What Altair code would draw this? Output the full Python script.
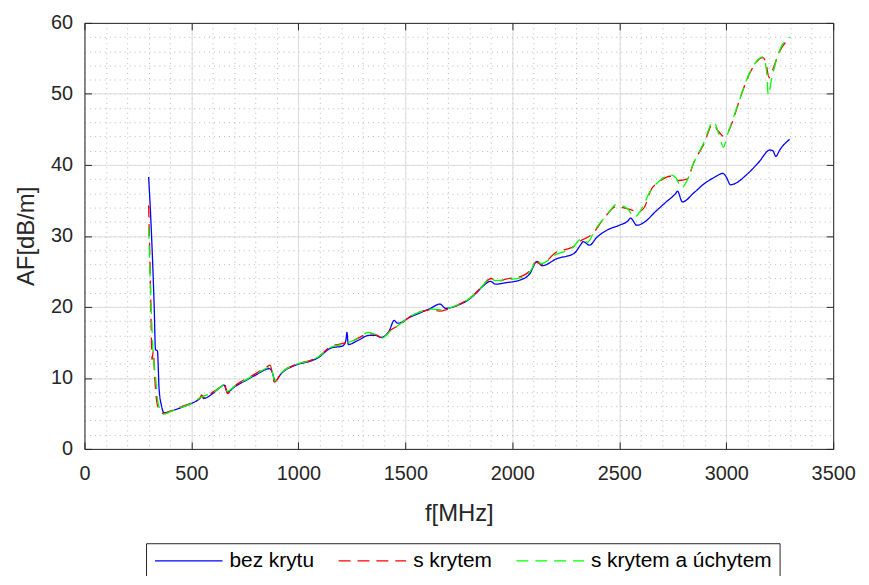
import altair as alt
import pandas as pd

names = ["bez krytu", "s krytem", "s krytem a úchytem"]
colors = ["#0000ff", "#ff0000", "#00ff00"]
dashes = [[1, 0], [12, 7], [12, 7]]

f_blue = [300, 314, 326, 332, 341, 349, 360, 372, 400, 450, 500, 539, 551, 556, 600, 632, 652, 668, 700,
          764, 800, 865, 875, 892, 920, 997, 1050, 1090, 1152, 1207, 1222, 1227, 1233, 1280, 1331, 1360,
          1386, 1424, 1448, 1463, 1525, 1580, 1618, 1662, 1688, 1758, 1800, 1836, 1859, 1898, 1921, 1968,
          2038, 2080, 2116, 2139, 2209, 2287, 2325, 2330, 2361, 2395, 2442, 2500, 2540, 2553, 2582, 2625,
          2665, 2720, 2764, 2772, 2795, 2850, 2895, 2942, 2985, 3000, 3020, 3035, 3098, 3150, 3205, 3218,
          3232, 3250, 3296]
v_blue = [38.3, 29.8, 20.0, 14.0, 13.8, 8.4, 6.1, 5.1, 5.3, 5.8, 6.4, 7.1, 7.5, 7.1, 7.8, 8.6, 9.0, 8.0, 8.7,
          9.8, 10.4, 11.3, 11.0, 9.6, 10.6, 11.9, 12.3, 12.8, 14.2, 14.5, 15.3, 16.4, 14.7, 15.3, 16.0, 16.0,
          15.7, 16.6, 18.1, 17.7, 18.6, 19.3, 19.8, 20.4, 19.8, 20.4, 21.1, 22.1, 22.8, 23.6, 23.2, 23.4,
          23.8, 24.6, 26.4, 25.8, 26.8, 27.5, 29.0, 29.2, 28.7, 29.8, 30.8, 31.5, 32.1, 32.5, 31.5, 32.1,
          33.3, 34.8, 36.0, 36.3, 34.8, 36.1, 37.3, 38.2, 38.8, 38.3, 37.2, 37.3, 38.7, 40.3, 42.1, 42.0,
          41.2, 42.1, 43.6]

f_red = [300, 308, 316, 322, 328, 340, 355, 370, 400, 450, 500, 540, 548, 555, 600, 640, 655, 668, 700,
         764, 800, 860, 868, 888, 920, 1000, 1050, 1090, 1150, 1200, 1260, 1330, 1360, 1390, 1430, 1480,
         1525, 1580, 1620, 1660, 1700, 1760, 1800, 1840, 1870, 1900, 1930, 1970, 2050, 2090, 2110, 2135,
         2205, 2280, 2325, 2372, 2432, 2485, 2540, 2563, 2590, 2617, 2647, 2686, 2740, 2777, 2817, 2848,
         2895, 2937, 2962, 2988, 3003, 3027, 3065, 3110, 3172, 3186, 3200, 3222, 3245, 3296]
v_red = [34.3, 24.0, 12.6, 13.8, 10.3, 6.3, 5.3, 5.0, 5.3, 5.9, 6.5, 7.2, 7.6, 7.2, 8.0, 8.8, 9.2, 7.8, 8.8,
         10.0, 10.6, 11.7, 11.8, 9.4, 10.7, 12.0, 12.4, 12.9, 14.4, 14.8, 15.3, 16.2, 16.1, 15.7, 16.7, 17.6,
         18.7, 19.4, 19.6, 19.4, 19.7, 20.5, 21.2, 22.3, 23.3, 24.0, 23.6, 23.9, 24.4, 25.4, 26.3, 26.0,
         27.7, 28.4, 29.4, 30.2, 32.6, 34.1, 33.8, 33.6, 33.4, 34.0, 36.4, 37.6, 38.4, 37.8, 38.0, 40.3,
         42.9, 45.7, 44.8, 44.0, 44.3, 45.9, 49.4, 52.9, 55.1, 54.3, 52.3, 53.8, 55.7, 57.8]

f_green = [300, 312, 322, 330, 345, 370, 400, 450, 500, 545, 600, 640, 655, 668, 700, 764, 800, 860, 870,
           890, 920, 1000, 1050, 1090, 1150, 1200, 1260, 1330, 1360, 1390, 1430, 1480, 1525, 1580, 1620,
           1660, 1700, 1760, 1800, 1840, 1870, 1895, 1920, 1970, 2050, 2090, 2112, 2135, 2205, 2280, 2325,
           2352, 2385, 2447, 2485, 2540, 2570, 2600, 2647, 2686, 2740, 2767, 2790, 2817, 2848, 2895, 2940,
           2966, 2987, 3006, 3027, 3065, 3110, 3172, 3188, 3197, 3210, 3230, 3245, 3296]
v_green = [31.3, 19.8, 12.8, 10.8, 6.3, 4.9, 5.2, 5.8, 6.4, 7.3, 7.9, 8.8, 9.1, 8.1, 8.8, 9.9, 10.5, 11.5, 11.6,
           9.6, 10.7, 12.0, 12.4, 12.9, 14.3, 14.7, 15.3, 16.4, 16.1, 15.6, 16.6, 17.7, 18.7, 19.4, 19.7,
           19.6, 19.8, 20.5, 21.2, 22.3, 23.3, 24.2, 23.7, 23.8, 24.2, 25.3, 26.6, 26.1, 27.4, 28.3, 29.6,
           29.1, 30.8, 33.1, 34.4, 33.8, 32.6, 33.6, 36.4, 37.7, 38.6, 38.1, 36.8, 37.8, 40.3, 43.1, 46.1,
           44.3, 42.5, 44.3, 46.1, 49.4, 53.0, 55.2, 53.3, 49.8, 51.8, 54.3, 55.8, 58.0]

x_ticks = [0, 500, 1000, 1500, 2000, 2500, 3000, 3500]
y_ticks = [0, 10, 20, 30, 40, 50, 60]
x_minor = list(range(0, 3501, 100))
y_minor = list(range(0, 61, 2))

rows = []
for name, fs, vs in zip(names, [f_blue, f_red, f_green], [v_blue, v_red, v_green]):
    for i, (f, v) in enumerate(zip(fs, vs)):
        rows.append({"f": f, "af": v, "s": name, "i": i})
df = pd.DataFrame(rows)

FONT = "Liberation Sans"
DARK = "#262626"
xs = alt.Scale(domain=[0, 3500], nice=False, zero=False)
ys = alt.Scale(domain=[0, 60], nice=False, zero=False)

base = alt.Chart(df)

minor = base.mark_line(opacity=0).encode(
    x=alt.X("f:Q", scale=xs, axis=alt.Axis(orient="bottom", values=x_minor, grid=True, gridDash=[1, 4],
                                           gridColor="#b8b8b8", gridWidth=1, labels=False, ticks=False,
                                           domain=False, title=None)),
    y=alt.Y("af:Q", scale=ys, axis=alt.Axis(orient="left", values=y_minor, grid=True, gridDash=[1, 4],
                                            gridColor="#b8b8b8", gridWidth=1, labels=False, ticks=False,
                                            domain=False, title=None)),
    detail="s:N",
)

leg = dict(title=None, orient="none", legendX=62, legendY=524, direction="horizontal",
           symbolType="M-1,0H7", symbolSize=289, symbolStrokeWidth=1.2, labelFontSize=21,
           labelFont=FONT, labelColor="#000000", strokeColor=DARK, fillColor="#ffffff",
           padding=7, columnPadding=21, labelOffset=56, labelLimit=400)

lines = base.mark_line(strokeWidth=1.3, clip=True, interpolate="monotone").encode(
    x=alt.X("f:Q", scale=xs, title="f[MHz]",
            axis=alt.Axis(orient="bottom", values=x_ticks, format="d", labelFlush=False, grid=True,
                          gridColor="#dcdcdc", gridWidth=1,
                          domainColor=DARK, tickColor=DARK, tickSize=alt.ExprRef(expr="-7"),
                          labelPadding=22, labelFont=FONT, labelFontSize=20, labelColor=DARK,
                          titleFont=FONT, titleFontSize=24, titleFontWeight="normal", titleColor=DARK,
                          titlePadding=18)),
    y=alt.Y("af:Q", scale=ys, title="AF[dB/m]",
            axis=alt.Axis(orient="left", values=y_ticks, grid=True, gridColor="#dcdcdc", gridWidth=1,
                          domainColor=DARK, tickColor=DARK, tickSize=alt.ExprRef(expr="-7"),
                          labelPadding=19, labelFont=FONT, labelFontSize=20, labelColor=DARK,
                          titleFont=FONT, titleFontSize=24, titleFontWeight="normal", titleColor=DARK,
                          titlePadding=12)),
    color=alt.Color("s:N", scale=alt.Scale(domain=names, range=colors), legend=alt.Legend(**leg)),
    strokeDash=alt.StrokeDash("s:N", scale=alt.Scale(domain=names, range=dashes), legend=alt.Legend(**leg)),
    order=alt.Order("i:Q"),
)

box = base.mark_line(opacity=0).encode(
    x=alt.X("f:Q", scale=xs, axis=alt.Axis(orient="top", values=x_ticks, grid=False, labels=False,
                                           domainColor=DARK, tickColor=DARK, tickSize=alt.ExprRef(expr="-7"),
                                           title=None)),
    y=alt.Y("af:Q", scale=ys, axis=alt.Axis(orient="right", values=y_ticks, grid=False, labels=False,
                                            domainColor=DARK, tickColor=DARK, tickSize=alt.ExprRef(expr="-7"),
                                            title=None)),
    detail="s:N",
)

chart = alt.layer(minor, lines, box).resolve_axis(x="independent", y="independent").properties(
    width=754, height=429,
    autosize=alt.AutoSizeParams(type="none"),
    padding={"left": 77, "top": 13, "right": 28, "bottom": 126},
).configure_view(stroke=None)

chart.save("out.html", embed_options={"renderer": "svg", "actions": False})
